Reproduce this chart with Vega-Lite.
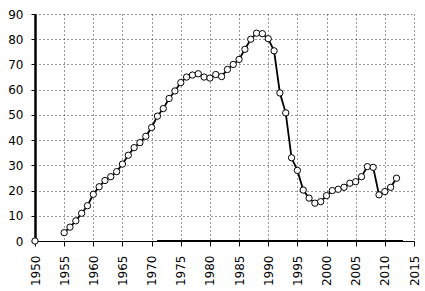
{
  "$schema": "https://vega.github.io/schema/vega-lite/v6.json",
  "width": 379,
  "height": 227,
  "autosize": "none",
  "padding": {"left": 35, "top": 14, "right": 11, "bottom": 50},
  "background": "white",
  "config": {
    "view": {"stroke": null},
    "axis": {"labelFont": "DejaVu Sans", "labelFontSize": 12, "labelColor": "black", "gridColor": "black", "gridDash": [1, 3], "gridOpacity": 0.8, "gridWidth": 1, "tickColor": "black", "domainColor": "black"}
  },
  "data": {"values": [
    {"year": 1950, "value": 0, "seg": "a"},
    {"year": 1955, "value": 3.3, "seg": "b"},
    {"year": 1956, "value": 5.5, "seg": "b"},
    {"year": 1957, "value": 8, "seg": "b"},
    {"year": 1958, "value": 11, "seg": "b"},
    {"year": 1959, "value": 14, "seg": "b"},
    {"year": 1960, "value": 18.5, "seg": "b"},
    {"year": 1961, "value": 21.5, "seg": "b"},
    {"year": 1962, "value": 24, "seg": "b"},
    {"year": 1963, "value": 25.5, "seg": "b"},
    {"year": 1964, "value": 27.5, "seg": "b"},
    {"year": 1965, "value": 30.5, "seg": "b"},
    {"year": 1966, "value": 34, "seg": "b"},
    {"year": 1967, "value": 37, "seg": "b"},
    {"year": 1968, "value": 39, "seg": "b"},
    {"year": 1969, "value": 41.5, "seg": "b"},
    {"year": 1970, "value": 45, "seg": "b"},
    {"year": 1971, "value": 49.5, "seg": "b"},
    {"year": 1972, "value": 52.5, "seg": "b"},
    {"year": 1973, "value": 56.5, "seg": "b"},
    {"year": 1974, "value": 59.5, "seg": "b"},
    {"year": 1975, "value": 62.8, "seg": "b"},
    {"year": 1976, "value": 65, "seg": "b"},
    {"year": 1977, "value": 65.8, "seg": "b"},
    {"year": 1978, "value": 66.3, "seg": "b"},
    {"year": 1979, "value": 65, "seg": "b"},
    {"year": 1980, "value": 64.6, "seg": "b"},
    {"year": 1981, "value": 66, "seg": "b"},
    {"year": 1982, "value": 65.2, "seg": "b"},
    {"year": 1983, "value": 68, "seg": "b"},
    {"year": 1984, "value": 70, "seg": "b"},
    {"year": 1985, "value": 72, "seg": "b"},
    {"year": 1986, "value": 76, "seg": "b"},
    {"year": 1987, "value": 80, "seg": "b"},
    {"year": 1988, "value": 82.4, "seg": "b"},
    {"year": 1989, "value": 82.2, "seg": "b"},
    {"year": 1990, "value": 80.2, "seg": "b"},
    {"year": 1991, "value": 75.4, "seg": "b"},
    {"year": 1992, "value": 58.7, "seg": "b"},
    {"year": 1993, "value": 50.8, "seg": "b"},
    {"year": 1994, "value": 33, "seg": "b"},
    {"year": 1995, "value": 28, "seg": "b"},
    {"year": 1996, "value": 20.2, "seg": "b"},
    {"year": 1997, "value": 17, "seg": "b"},
    {"year": 1998, "value": 15, "seg": "b"},
    {"year": 1999, "value": 15.6, "seg": "b"},
    {"year": 2000, "value": 18, "seg": "b"},
    {"year": 2001, "value": 20, "seg": "b"},
    {"year": 2002, "value": 20.5, "seg": "b"},
    {"year": 2003, "value": 21.3, "seg": "b"},
    {"year": 2004, "value": 22.9, "seg": "b"},
    {"year": 2005, "value": 23.5, "seg": "b"},
    {"year": 2006, "value": 25.5, "seg": "b"},
    {"year": 2007, "value": 29.5, "seg": "b"},
    {"year": 2008, "value": 29.2, "seg": "b"},
    {"year": 2009, "value": 18.3, "seg": "b"},
    {"year": 2010, "value": 19.6, "seg": "b"},
    {"year": 2011, "value": 21.3, "seg": "b"},
    {"year": 2012, "value": 24.9, "seg": "b"}
  ]},
  "encoding": {
    "x": {"field": "year", "type": "quantitative", "scale": {"domain": [1950, 2015], "nice": false, "zero": false},
      "axis": {"title": null, "values": [1950,1955,1960,1965,1970,1975,1980,1985,1990,1995,2000,2005,2010,2015], "format": "d", "labelAngle": -90, "labelAlign": "right", "labelBaseline": "middle", "labelPadding": 9, "tickSize": 5, "domainWidth": 1.2, "labelFlush": false, "labelOverlap": false}},
    "y": {"field": "value", "type": "quantitative", "scale": {"domain": [0, 90], "nice": false},
      "axis": {"title": null, "values": [0,10,20,30,40,50,60,70,80,90], "tickSize": 4, "labelPadding": 8, "domainWidth": 2.5, "labelFlush": false}}
  },
  "layer": [
    {"mark": {"type": "rule", "color": "black", "strokeWidth": 2},
     "encoding": {"x": {"datum": 1971}, "x2": {"datum": 2013}, "y": {"datum": 0}}},
    {"mark": {"type": "line", "color": "black", "strokeWidth": 1.8},
     "encoding": {"detail": {"field": "seg"}}},
    {"mark": {"type": "point", "shape": "circle", "filled": true, "fill": "white", "stroke": "black", "strokeWidth": 1, "size": 40, "opacity": 1}}
  ]
}
